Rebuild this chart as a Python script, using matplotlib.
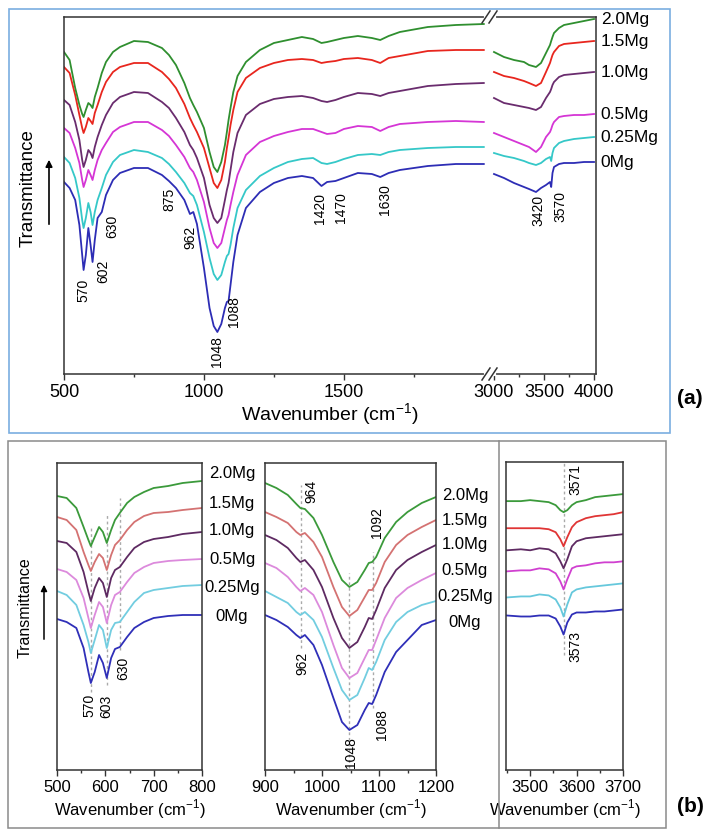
import matplotlib.pyplot as plt
from matplotlib.patches import Rectangle, FancyArrowPatch
from matplotlib.lines import Line2D

plt.rcParams['font.family'] = ['Liberation Sans', 'DejaVu Sans']
plt.rcParams['mathtext.fontset'] = 'custom'
plt.rcParams['mathtext.rm'] = 'Liberation Sans'

# samples, bottom to top
samples = ['0Mg', '0.25Mg', '0.5Mg', '1.0Mg', '1.5Mg', '2.0Mg']

# ---- panel (a), 500-2000 cm-1 (transmittance, stacked, a.u.)
wn_a_lo = [500, 520, 540, 555, 565, 570, 578, 587, 595, 602, 610, 620, 635, 650, 675,
           700, 750, 800, 850, 875, 900, 930, 950, 962, 975, 1000, 1020, 1035, 1048,
           1062, 1075, 1082, 1088, 1095, 1105, 1120, 1150, 1200, 1250, 1300, 1350,
           1390, 1420, 1440, 1470, 1500, 1550, 1600, 1630, 1660, 1700, 1800, 1900, 2000]
a_lo_T = [
    [192, 186, 174, 149, 119, 104, 119, 146, 129, 112, 134, 156, 162, 179, 194, 201, 206, 206,
     199, 193, 186, 174, 160, 162, 150, 106, 66, 48, 42, 50, 66, 72, 73, 89, 112, 139, 166,
     182, 191, 196, 198, 196, 188, 192, 193, 196, 201, 200, 197, 201, 204, 208, 210, 210],
    [217, 211, 196, 176, 154, 146, 156, 171, 162, 149, 162, 174, 186, 199, 212, 219, 224, 222,
     216, 210, 202, 191, 181, 178, 169, 142, 116, 100, 94, 99, 112, 118, 120, 129, 146, 166,
     184, 198, 206, 212, 215, 216, 211, 210, 212, 215, 219, 220, 219, 222, 224, 226, 227, 227],
    [246, 241, 226, 211, 194, 187, 194, 204, 199, 194, 204, 214, 224, 231, 242, 247, 252, 252,
     244, 238, 229, 217, 206, 202, 194, 172, 146, 131, 126, 131, 146, 154, 159, 169, 182, 199,
     219, 232, 238, 242, 245, 245, 242, 240, 241, 245, 248, 247, 243, 247, 250, 252, 253, 252],
    [274, 269, 252, 234, 214, 207, 214, 224, 221, 216, 227, 237, 249, 259, 271, 277, 282, 281,
     272, 266, 256, 242, 229, 224, 216, 196, 169, 156, 151, 156, 174, 184, 191, 204, 222, 241,
     259, 270, 275, 277, 278, 276, 273, 272, 274, 277, 281, 280, 278, 281, 283, 288, 290, 291],
    [307, 301, 279, 259, 246, 241, 247, 256, 253, 250, 261, 269, 282, 292, 302, 307, 311, 311,
     302, 295, 286, 270, 256, 249, 242, 226, 206, 191, 186, 194, 212, 226, 236, 249, 264, 282,
     296, 306, 311, 314, 315, 314, 311, 312, 313, 315, 316, 314, 311, 316, 318, 323, 324, 324],
    [322, 314, 286, 269, 260, 257, 264, 271, 269, 266, 277, 286, 301, 312, 322, 327, 333, 332,
     326, 319, 309, 291, 276, 269, 262, 246, 222, 207, 202, 212, 229, 242, 254, 266, 282, 298,
     312, 324, 331, 334, 337, 335, 331, 332, 334, 336, 338, 336, 334, 338, 342, 347, 349, 350],
]

# ---- panel (a), 3000-4000 cm-1
wn_a_hi = [3000, 3100, 3200, 3300, 3350, 3420, 3470, 3520, 3560, 3572, 3585, 3600, 3650,
           3700, 3800, 3900, 4000]
a_hi_T = [
    [200, 196, 191, 187, 185, 182, 186, 189, 192, 187, 201, 207, 210, 211, 211, 212, 212],
    [221, 218, 216, 213, 211, 209, 211, 215, 217, 213, 221, 226, 231, 233, 235, 236, 237],
    [241, 237, 233, 229, 227, 222, 227, 237, 242, 245, 249, 252, 257, 258, 259, 259, 260],
    [276, 271, 269, 267, 266, 264, 267, 276, 282, 285, 289, 292, 297, 299, 300, 301, 302],
    [302, 298, 296, 293, 291, 288, 291, 302, 311, 315, 319, 322, 328, 330, 331, 332, 333],
    [322, 317, 314, 312, 309, 307, 311, 321, 329, 333, 337, 341, 346, 349, 351, 353, 355],
]

# ---- panel (b), 500-800 cm-1
wn_b1 = [500, 520, 540, 555, 565, 570, 578, 587, 595, 603, 612, 620, 630, 645, 660, 680,
         700, 730, 760, 800]
b1_T = [
    [151, 148, 142, 122, 98, 87, 98, 115, 107, 92, 112, 121, 123, 133, 142, 148, 152, 154, 155, 155],
    [179, 175, 165, 145, 128, 117, 130, 145, 140, 122, 140, 147, 148, 158, 168, 177, 180, 182, 184, 185],
    [201, 198, 190, 172, 152, 142, 155, 168, 163, 147, 165, 175, 178, 188, 197, 203, 207, 209, 210, 211],
    [229, 227, 218, 198, 178, 169, 182, 192, 187, 173, 192, 200, 203, 213, 222, 228, 231, 233, 236, 238],
    [253, 250, 240, 218, 205, 199, 208, 216, 212, 200, 215, 225, 230, 240, 248, 254, 257, 258, 260, 262],
    [274, 272, 262, 243, 230, 224, 233, 243, 238, 227, 240, 250, 257, 267, 273, 278, 282, 284, 287, 289],
]

# ---- panel (b), 900-1200 cm-1
wn_b2 = [900, 920, 940, 955, 962, 970, 985, 1000, 1020, 1035, 1048, 1062, 1075, 1082, 1088,
         1095, 1110, 1130, 1150, 1175, 1200]
b2_T = [
    [155, 150, 143, 135, 132, 135, 125, 105, 72, 48, 40, 45, 60, 67, 66, 75, 98, 118, 130, 145, 150],
    [179, 173, 167, 158, 155, 158, 150, 133, 102, 80, 70, 75, 92, 102, 100, 108, 130, 148, 158, 165, 169],
    [207, 202, 193, 183, 179, 182, 175, 158, 125, 102, 92, 97, 112, 120, 120, 130, 152, 172, 182, 190, 197],
    [235, 230, 222, 212, 208, 210, 200, 183, 152, 132, 122, 128, 143, 152, 151, 160, 182, 200, 210, 218, 225],
    [258, 253, 247, 238, 235, 237, 228, 213, 183, 163, 154, 160, 173, 180, 180, 187, 208, 225, 235, 243, 250],
    [287, 282, 275, 266, 262, 261, 252, 235, 208, 190, 183, 188, 200, 207, 208, 213, 232, 248, 258, 267, 273],
]

# ---- panel (b), 3450-3700 cm-1
wn_b3 = [3450, 3480, 3500, 3520, 3540, 3555, 3565, 3572, 3580, 3590, 3600, 3620, 3640, 3660,
         3680, 3700]
b3_T = [
    [154, 153, 153, 154, 154, 151, 143, 135, 147, 155, 157, 157, 158, 158, 159, 160],
    [172, 173, 173, 175, 174, 170, 162, 153, 165, 177, 180, 182, 183, 184, 185, 186],
    [198, 199, 199, 201, 200, 196, 188, 180, 190, 201, 203, 204, 206, 207, 207, 208],
    [219, 220, 219, 221, 220, 216, 208, 201, 210, 223, 228, 231, 232, 233, 234, 235],
    [241, 241, 241, 241, 240, 237, 230, 223, 232, 242, 247, 251, 253, 254, 255, 257],
    [268, 268, 269, 268, 267, 264, 259, 257, 259, 264, 267, 269, 272, 273, 274, 275],
]

cols_a = ['#2d2db5', '#35c8c8', '#d535d5', '#6a2c6e', '#e8261e', '#2f8f2f']
cols_b = ['#2f2fb8', '#72cde0', '#dc8adc', '#5e2a62', '#d47272', '#3b9a3b']
cols_b3 = ['#2f2fb8', '#66c8dc', '#d040d0', '#5e2a62', '#e03535', '#3b9a3b']

W, H = 724, 838
fig = plt.figure(figsize=(W / 100, H / 100), dpi=100)


def fx(x):
    return x / W


def fy(y):
    return 1 - y / H


def box(x0, y0, x1, y1):
    return [fx(x0), fy(y1), (x1 - x0) / W, (y1 - y0) / H]


def style(ax, fs):
    ax.set_yticks([])
    ax.tick_params(axis='x', which='both', direction='out', labelsize=fs, pad=2.5,
                   color='#333333')
    ax.tick_params(axis='x', which='major', length=4.5, width=1)
    ax.tick_params(axis='x', which='minor', length=2.5, width=1)
    for s in ax.spines.values():
        s.set_linewidth(1.1)
        s.set_color('#333333')


# frames
fig.patches.append(Rectangle((fx(9), fy(433)), (670 - 9) / W, (433 - 9) / H,
                             transform=fig.transFigure, fill=False, ec='#7aaee0', lw=1.2))
fig.patches.append(Rectangle((fx(8), fy(828)), (666 - 8) / W, (828 - 441) / H,
                             transform=fig.transFigure, fill=False, ec='#8a8a8a', lw=1.1))
fig.add_artist(Line2D([fx(499), fx(499)], [fy(441), fy(828)], color='#8a8a8a', lw=1.1))

# ---------------- panel (a)
ax1 = fig.add_axes(box(64, 17, 488, 374))
ax2 = fig.add_axes(box(488, 17, 596, 374))
for ax in (ax1, ax2):
    style(ax, 13)
    ax.set_ylim(0, 357)
ax1.spines['right'].set_visible(False)
ax2.spines['left'].set_visible(False)
ax1.set_xlim(500, 2015)
ax2.set_xlim(2940, 4020)
ax1.set_xticks([500, 1000, 1500])
ax1.set_xticks([750, 1250, 1750], minor=True)
ax2.set_xticks([3000, 3500, 4000])
ax2.set_xticks([3250, 3750], minor=True)

for i in range(len(samples)):
    ax1.plot(wn_a_lo, a_lo_T[i], color=cols_a[i], lw=1.3)
    ax2.plot(wn_a_hi, a_hi_T[i], color=cols_a[i], lw=1.3)
    ax2.annotate(samples[i], xy=(1, a_hi_T[i][-1]), xycoords=('axes fraction', 'data'),
                 xytext=(3.5, 0), textcoords='offset points', va='center', ha='left',
                 fontsize=12.5, annotation_clip=False)

peaks_a_lo = [('570', 568, 84), ('602', 639, 103), ('630', 671, 148), ('875', 875, 175),
              ('962', 950, 137), ('1048', 1046, 22), ('1088', 1107, 62),
              ('1420', 1414, 166), ('1470', 1489, 166), ('1630', 1646, 174)]
for lab, x, y in peaks_a_lo:
    ax1.text(x, y, lab, rotation=90, ha='center', va='center', fontsize=10)
for lab, x, y in [('3420', 3440, 164), ('3570', 3660, 168)]:
    ax2.text(x, y, lab, rotation=90, ha='center', va='center', fontsize=10)

# axis break marks
for yb in (17, 374):
    fig.add_artist(Line2D([fx(486), fx(494)], [fy(yb), fy(yb)], color='white', lw=3))
    for xc in (486, 493):
        fig.add_artist(Line2D([fx(xc - 4), fx(xc + 4)], [fy(yb + 6), fy(yb - 6)],
                              color='#333333', lw=1.1))

fig.text(fx(330), fy(415), 'Wavenumber (cm$^{-1}$)', ha='center', va='center', fontsize=14)
fig.text(fx(28), fy(188), 'Transmittance', rotation=90, ha='center', va='center',
         fontsize=13.5)
fig.add_artist(FancyArrowPatch((fx(49), fy(227)), (fx(49), fy(157)),
                               transform=fig.transFigure, arrowstyle='-|>',
                               mutation_scale=10, lw=1.2, color='black'))
fig.text(fx(690), fy(398), '(a)', ha='center', va='center', fontsize=15, fontweight='bold')

# ---------------- panel (b)
b1 = fig.add_axes(box(57, 463, 202, 770))
b2 = fig.add_axes(box(265, 463, 436, 770))
b3 = fig.add_axes(box(506, 462, 623, 770))
for ax in (b1, b2, b3):
    style(ax, 12)
    ax.set_ylim(0, 307)
    ax.set_xlabel('Wavenumber (cm$^{-1}$)', fontsize=12, labelpad=2)

b1.set_xlim(500, 800)
b1.set_xticks([500, 600, 700, 800])
b1.set_xticks([550, 650, 750], minor=True)
b2.set_xlim(900, 1200)
b2.set_xticks([900, 1000, 1100, 1200])
b2.set_xticks([950, 1050, 1150], minor=True)
b3.set_xlim(3448, 3700)
b3.set_xticks([3500, 3600, 3700])
b3.set_xticks([3450, 3550, 3650], minor=True)

dot = dict(color='#aaaaaa', lw=1, ls=(0, (2, 2)), zorder=1)
for x, y0, y1 in [(570, 78, 243), (603, 85, 255), (630, 120, 272)]:
    b1.plot([x, x], [y0, y1], **dot)
for x, y0, y1 in [(964, 122, 285), (1048, 2, 197), (1090, 62, 218)]:
    b2.plot([x, x], [y0, y1], **dot)
b3.plot([3573, 3573], [115, 307], **dot)

for i in range(len(samples)):
    b1.plot(wn_b1, b1_T[i], color=cols_b[i], lw=1.3, zorder=2)
    b2.plot(wn_b2, b2_T[i], color=cols_b[i], lw=1.3, zorder=2)
    b3.plot(wn_b3, b3_T[i], color=cols_b3[i], lw=1.3, zorder=2)

for lab, x, y in [('570', 568, 65), ('603', 601, 64), ('630', 637, 102)]:
    b1.text(x, y, lab, rotation=90, ha='center', va='center', fontsize=10)
for lab, x, y in [('964', 982, 279), ('962', 965, 107), ('1048', 1051, 17),
                  ('1092', 1096, 247), ('1088', 1105, 45)]:
    b2.text(x, y, lab, rotation=90, ha='center', va='center', fontsize=10)
for lab, x, y in [('3571', 3597, 289), ('3573', 3597, 123)]:
    b3.text(x, y, lab, rotation=90, ha='center', va='center', fontsize=10)

for name, y in zip(samples, [616, 587, 559, 530, 503, 473]):
    fig.text(fx(232), fy(y), name, ha='center', va='center', fontsize=12)
for name, y in zip(samples, [622, 596, 570, 545, 520, 495]):
    fig.text(fx(465), fy(y), name, ha='center', va='center', fontsize=12)

fig.text(fx(25), fy(608), 'Transmittance', rotation=90, ha='center', va='center',
         fontsize=11.5)
fig.add_artist(FancyArrowPatch((fx(44), fy(642)), (fx(44), fy(582)),
                               transform=fig.transFigure, arrowstyle='-|>',
                               mutation_scale=9, lw=1.1, color='black'))
fig.text(fx(690), fy(806), '(b)', ha='center', va='center', fontsize=15, fontweight='bold')

fig.savefig('out.png', dpi=100)
